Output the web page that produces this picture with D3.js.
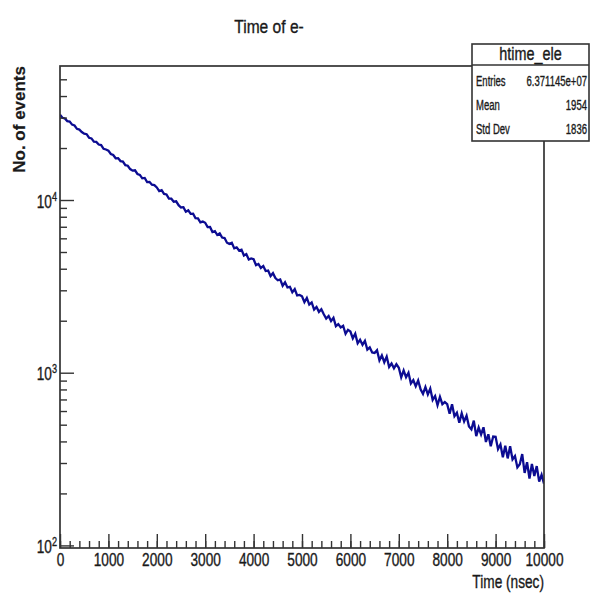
<!DOCTYPE html>
<html>
<head>
<meta charset="utf-8">
<script src="https://cdn.jsdelivr.net/npm/d3@7"></script>
<style>
  body { margin: 0; background: #fff; }
  text { font-family: "Liberation Sans", Arial, sans-serif; fill: #1a1a1a; stroke: #1a1a1a; stroke-width: 0.35px; }
</style>
</head>
<body>
<div id="VisContainer"></div>
<script>

// histogram, one value every 50 ns from 0 to 10000
timeStep = 50;
counts = [
  31190, 29950, 29650, 28620, 28470, 27320, 27010, 25840, 25580, 24760,
  24220, 24040, 22930, 22740, 21750, 21700, 20950, 20800, 19800, 19620,
  19320, 18460, 18220, 17440, 17480, 16800, 16710, 15910, 15800, 15110,
  14790, 14860, 14150, 13980, 13350, 13420, 12700, 12730, 12270, 12190,
  11820, 11270, 11400, 10840, 10770, 10180, 10180, 9780, 9830, 9330,
  9050, 9090, 8560, 8710, 8310, 8340, 7840, 7820, 7420, 7500,
  7380, 6970, 6980, 6530, 6600, 6270, 6400, 6060, 6020, 5660,
  5570, 5660, 5250, 5320, 5100, 5160, 4770, 4860, 4520, 4590,
  4540, 4190, 4260, 4040, 4150, 3880, 3900, 3630, 3770, 3530,
  3430, 3470, 3190, 3340, 3120, 3140, 2920, 3050, 2800, 2820,
  2770, 2560, 2710, 2480, 2550, 2320, 2400, 2250, 2330, 2180,
  2060, 2130, 1990, 2080, 1860, 1910, 1830, 1870, 1680, 1770,
  1730, 1580, 1680, 1480, 1550, 1450, 1530, 1360, 1400, 1310,
  1300, 1350, 1180, 1260, 1150, 1240, 1080, 1130, 1060, 1120,
  1068, 940, 1030, 941, 1000, 866, 905, 836, 902, 802,
  755, 827, 749, 809, 696, 733, 648, 724, 657, 676,
  657, 578, 656, 560, 586, 514, 582, 522, 563, 488,
  470, 528, 429, 481, 439, 483, 397, 440, 375, 427,
  425, 361, 384, 324, 378, 319, 375, 315, 329, 283,
  295, 338, 263, 303, 244, 296, 252, 288, 234, 256,
  228
];

xMajorTicks = [0, 1000, 2000, 3000, 4000, 5000, 6000, 7000, 8000, 9000, 10000];
xMinorTicks = d3.range(0, 10001, 200);
yMajorExponents = [2, 3, 4];
yMinorTicks = [200, 300, 400, 500, 600, 700, 800, 900,
               2000, 3000, 4000, 5000, 6000, 7000, 8000, 9000,
               20000, 30000, 40000, 50000];
statsNames = ["Entries", "Mean", "Std Dev"];
statsValues = ["6.371145e+07", "1954", "1836"];

W = 590; H = 594;
frame = {left: 60, top: 66, right: 544, bottom: 548};
lineColor = "#0c0c92";
frameColor = "#333";
narrow = "scale(0.76,1)";

svg = d3.select("#VisContainer").append("svg")
        .attr("width", W)
        .attr("height", H);

x = d3.scaleLinear().domain([0, 10000]).range([frame.left, frame.right]);
y = d3.scaleLog().domain([96.6, 59700]).range([frame.bottom, frame.top]);

svg.append("defs").append("clipPath").attr("id", "clipFrame")
   .append("rect")
   .attr("x", frame.left).attr("y", frame.top)
   .attr("width", frame.right - frame.left)
   .attr("height", frame.bottom - frame.top);

// the histogram
line = d3.line()
         .x(function(d, i){ return x(i * timeStep); })
         .y(function(d){ return y(d); });

svg.append("path")
   .datum(counts)
   .attr("clip-path", "url(#clipFrame)")
   .attr("d", line)
   .attr("fill", "none")
   .attr("stroke", lineColor)
   .attr("stroke-width", 2.3)
   .attr("stroke-linejoin", "miter");

// x axis, ticks pointing up into the frame
gxMinor = svg.append("g")
             .attr("transform", "translate(0," + frame.bottom + ")")
             .call(d3.axisBottom(x).tickValues(xMinorTicks).tickSize(-7).tickFormat(""));
gxMajor = svg.append("g")
             .attr("transform", "translate(0," + frame.bottom + ")")
             .call(d3.axisBottom(x).tickValues(xMajorTicks).tickSize(-14).tickPadding(5)
                     .tickFormat(d3.format("d")));
gxMajor.selectAll("text")
       .style("font-size", "18px")
       .attr("transform", narrow);

// y axis, ticks pointing right into the frame
gyMinor = svg.append("g")
             .attr("transform", "translate(" + frame.left + ",0)")
             .call(d3.axisLeft(y).tickValues(yMinorTicks).tickSize(-7).tickFormat(""));
gyMajor = svg.append("g")
             .attr("transform", "translate(" + frame.left + ",0)")
             .call(d3.axisLeft(y).tickValues(yMajorExponents.map(function(e){ return Math.pow(10, e); }))
                     .tickSize(-14).tickPadding(4).tickFormat(""));
gyMajor.selectAll(".tick text")
       .data(yMajorExponents)
       .style("font-size", "18px")
       .attr("dy", "0.4em")
       .attr("transform", narrow)
       .each(function(e){
          var t = d3.select(this);
          t.append("tspan").text("10");
          t.append("tspan").text(e).attr("dy", "-0.6em").style("font-size", "12px");
       });

svg.selectAll(".domain").remove();
svg.selectAll(".tick line").attr("stroke", frameColor).attr("stroke-width", 1.4);

// frame
svg.append("rect")
   .attr("x", frame.left).attr("y", frame.top)
   .attr("width", frame.right - frame.left)
   .attr("height", frame.bottom - frame.top)
   .attr("fill", "none")
   .attr("stroke", frameColor)
   .attr("stroke-width", 1.7);

// titles
svg.append("text")
   .attr("transform", "translate(269,33) scale(0.82,1)")
   .attr("text-anchor", "middle")
   .style("font-size", "19px")
   .text("Time of e-");

svg.append("text")
   .attr("transform", "translate(25," + frame.top + ") rotate(-90)")
   .attr("text-anchor", "end")
   .style("font-size", "17px")
   .style("font-weight", "bold")
   .style("stroke-width", "0.2px")
   .text("No. of events");

svg.append("text")
   .attr("transform", "translate(" + frame.right + ",588) " + narrow)
   .attr("text-anchor", "end")
   .style("font-size", "18px")
   .text("Time (nsec)");

// stats box
box = {left: 472, top: 44, right: 589, header: 65, bottom: 141};
gStats = svg.append("g");
gStats.append("rect")
      .attr("x", box.left).attr("y", box.top)
      .attr("width", box.right - box.left)
      .attr("height", box.bottom - box.top)
      .attr("fill", "#fff")
      .attr("stroke", frameColor)
      .attr("stroke-width", 1.6);
gStats.append("line")
      .attr("x1", box.left).attr("x2", box.right)
      .attr("y1", box.header).attr("y2", box.header)
      .attr("stroke", frameColor)
      .attr("stroke-width", 1.4);
gStats.append("text")
      .attr("transform", "translate(" + ((box.left + box.right) / 2) + ",60) scale(0.8,1)")
      .attr("text-anchor", "middle")
      .style("font-size", "18px")
      .text("htime_ele");

rowY = d3.scalePoint().domain(statsNames).range([86, 134]);
gStats.selectAll("text.name")
      .data(statsNames)
      .enter().append("text")
      .attr("class", "name")
      .attr("transform", function(d){ return "translate(476," + rowY(d) + ") scale(0.68,1)"; })
      .style("font-size", "14px")
      .text(function(d){ return d; });
gStats.selectAll("text.value")
      .data(statsValues)
      .enter().append("text")
      .attr("class", "value")
      .attr("text-anchor", "end")
      .attr("transform", function(d, i){ return "translate(587," + rowY(statsNames[i]) + ") scale(0.68,1)"; })
      .style("font-size", "14px")
      .text(function(d){ return d; });

</script>
</body>
</html>
